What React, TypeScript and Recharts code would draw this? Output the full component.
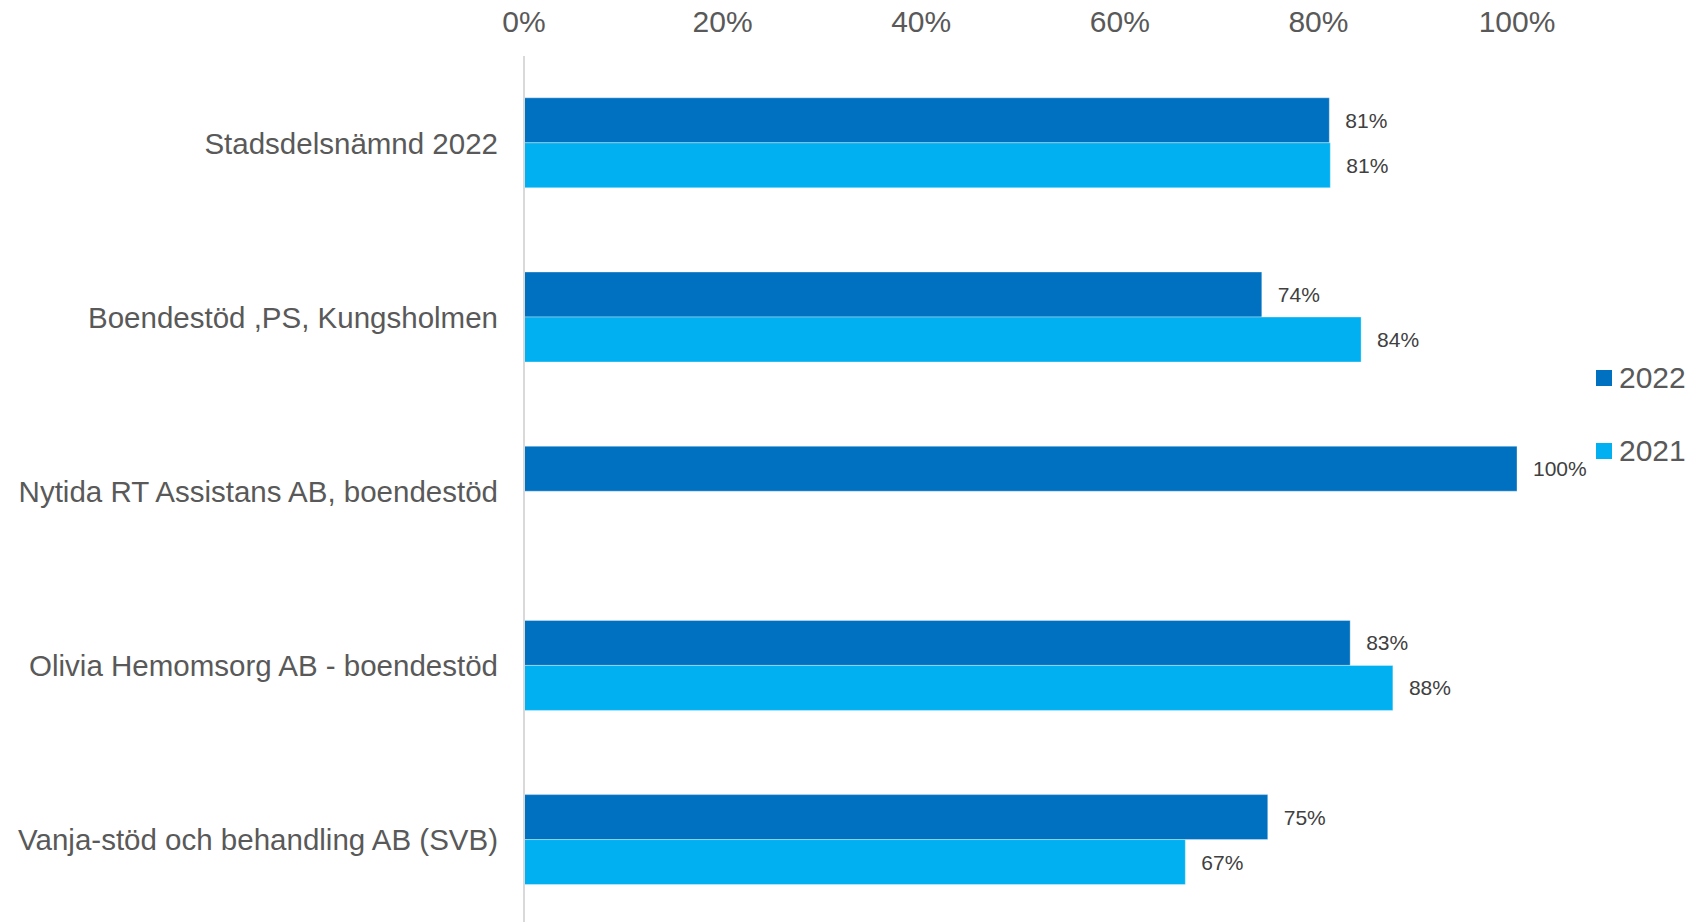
import { BarChart, Bar, XAxis, YAxis, LabelList, Legend } from "recharts";

// kategorier uppifrån och ned
const units = [
  "Stadsdelsnämnd 2022",
  "Boendestöd ,PS, Kungsholmen",
  "Nytida RT Assistans AB, boendestöd",
  "Olivia Hemomsorg AB - boendestöd",
  "Vanja-stöd och behandling AB (SVB)",
];
const values2022 = [0.811, 0.743, 1.0, 0.832, 0.749];
const values2021 = [0.812, 0.843, null, 0.875, 0.666];
const xTicks = [0, 0.2, 0.4, 0.6, 0.8, 1];
const legendOrder = ["2022", "2021"];

const data = units.map((name, i) => ({
  name,
  y2022: values2022[i],
  y2021: values2021[i],
}));

const pct = (v: any) => (v === null || v === undefined ? "" : Math.round(v * 100) + "%");

const FONT = "'Liberation Sans', Arial, sans-serif";

const LegendBox = ({ payload }: any) => {
  const items = [...(payload || [])].sort(
    (a: any, b: any) => legendOrder.indexOf(a.value) - legendOrder.indexOf(b.value)
  );
  return (
    <div style={{ fontFamily: FONT }}>
      {items.map((p: any) => (
        <div
          key={p.value}
          style={{ display: "flex", alignItems: "center", height: 73 }}
        >
          <span
            style={{
              display: "inline-block",
              width: 16,
              height: 16,
              background: p.color,
              marginRight: 7,
            }}
          />
          <span style={{ fontSize: 30, color: "#595959" }}>{p.value}</span>
        </div>
      ))}
    </div>
  );
};

const App = () => {
  return (
    <div style={{ position: "absolute", left: 0, top: 0, width: 1696, height: 922, overflow: "hidden", background: "#fff" }}>
      <BarChart
        width={1696}
        height={930}
        data={data}
        layout="vertical"
        margin={{ top: 0, right: 179, bottom: 3, left: 0 }}
        barCategoryGap="24%"
        barGap={0}
        style={{ fontFamily: FONT }}
      >
        <XAxis
          type="number"
          orientation="top"
          domain={[0, 1]}
          ticks={xTicks}
          tickFormatter={pct}
          height={56}
          axisLine={false}
          tickLine={false}
          tickSize={0}
          tickMargin={24}
          tick={{ fontSize: 30, fill: "#595959" }}
          interval={0}
        />
        <YAxis
          type="category"
          dataKey="name"
          width={524}
          axisLine={{ stroke: "#d9d9d9", strokeWidth: 2 }}
          tickLine={false}
          tickSize={0}
          tickMargin={26}
          tick={{ fontSize: 29.5, fill: "#595959" }}
          interval={0}
        />
        <Legend
          layout="horizontal"
          align="center"
          verticalAlign="middle"
          content={<LegendBox />}
          wrapperStyle={{ left: 1596, top: 341, width: 100 }}
        />
        <Bar
          dataKey="y2022"
          name="2022"
          fill="#0070C0"
          stroke="rgba(255,255,255,0.35)"
          strokeWidth={1}
          isAnimationActive={false}
        >
          <LabelList
            dataKey="y2022"
            position="right"
            offset={16}
            formatter={pct}
            style={{ fontSize: 21, fill: "#404040" }}
          />
        </Bar>
        <Bar
          dataKey="y2021"
          name="2021"
          fill="#00B0F0"
          stroke="rgba(255,255,255,0.35)"
          strokeWidth={1}
          isAnimationActive={false}
        >
          <LabelList
            dataKey="y2021"
            position="right"
            offset={16}
            formatter={pct}
            style={{ fontSize: 21, fill: "#404040" }}
          />
        </Bar>
      </BarChart>
    </div>
  );
};

export default App;
